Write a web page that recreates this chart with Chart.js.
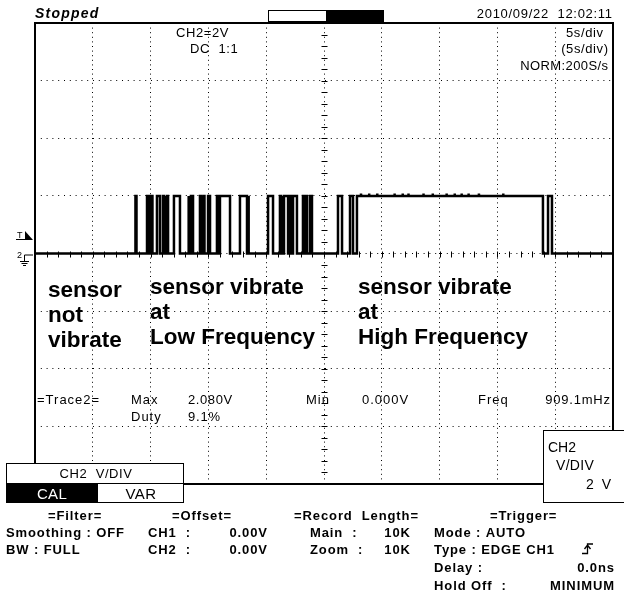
<!DOCTYPE html>
<html>
<head>
<meta charset="utf-8">
<script src="https://cdn.jsdelivr.net/npm/chart.js"></script>
<style>
  html, body { margin: 0; padding: 0; background: #fff; }
  #scope { display: block; }
</style>
</head>
<body>
<canvas id="scope" width="624" height="599"></canvas>
<script>
// Graticule: 10 x 5 s/div, 8 x 2 V/div, 0 V in the middle
const timeRange = [0, 50];
const voltRange = [-8, 8];
const timeStep = 5;
const voltStep = 2;

// CH2 trace: pulses (s) where the signal is high
const pulseOn  = [8.69, 9.69, 9.90, 10.08, 10.55, 11.07, 11.25, 11.42, 12.02, 13.24, 13.49,
                  14.27, 14.45, 14.58, 14.97, 15.74, 16.00, 17.73, 18.43, 20.16, 21.19, 21.37,
                  21.54, 22.06, 22.32, 23.18, 23.36, 23.79, 26.21, 27.25, 27.85, 44.38];
const pulseOff = [8.78, 9.78, 9.99, 10.16, 10.81, 11.16, 11.33, 11.51, 12.54, 13.32, 13.67,
                  14.36, 14.53, 14.66, 15.14, 15.83, 16.87, 18.34, 18.51, 20.59, 21.28, 21.45,
                  21.89, 22.15, 22.66, 23.27, 23.53, 23.96, 26.56, 27.51, 43.94, 44.72];
const highLevel = 2.0;
const spikeTimes = [28.2, 28.9, 29.6, 31.1, 31.8, 32.3, 33.6, 34.4, 35.6, 36.3, 36.9, 37.5, 38.4, 40.5];
const spikeLevel = 2.08;

// build the step trace from the arrays above
const trace = [{ x: timeRange[0], y: 0 }];
pulseOn.forEach((on, i) => {
  const off = pulseOff[i];
  trace.push({ x: on, y: 0 }, { x: on, y: highLevel });
  spikeTimes.filter(s => s > on && s < off).forEach(s => {
    trace.push({ x: s, y: highLevel }, { x: s, y: spikeLevel }, { x: s + 0.02, y: highLevel });
  });
  trace.push({ x: off, y: highLevel }, { x: off, y: 0 });
});
trace.push({ x: timeRange[1], y: 0 });

const SANS = '"Liberation Sans", Arial, sans-serif';

function txt(ctx, s, x, y, font, align = 'left', sp = 0, color = '#000') {
  ctx.save();
  ctx.font = font;
  ctx.letterSpacing = sp + 'px';
  ctx.textAlign = align;
  ctx.textBaseline = 'alphabetic';
  ctx.fillStyle = color;
  // letterSpacing also pads the last glyph, shift right-aligned text back
  ctx.fillText(s, align === 'right' ? x + sp : x, y);
  ctx.restore();
}

const screenDeco = {
  id: 'screenDeco',
  beforeDatasetsDraw(chart) {
    // centre lines carry small ticks every 1/5 division
    const { ctx, scales: { x, y } } = chart;
    const cx = Math.round(x.getPixelForValue((timeRange[0] + timeRange[1]) / 2)) + 0.5;
    const cy = Math.round(y.getPixelForValue(0)) + 0.5;
    ctx.save();
    ctx.strokeStyle = '#000';
    ctx.lineWidth = 1;
    ctx.beginPath();
    for (let t = timeRange[0]; t <= timeRange[1]; t += timeStep / 5) {
      const px = Math.round(x.getPixelForValue(t)) + 0.5;
      ctx.moveTo(px, cy - 3); ctx.lineTo(px, cy + 3);
    }
    for (let v = voltRange[0]; v <= voltRange[1] + 0.01; v += voltStep / 5) {
      const py = Math.round(y.getPixelForValue(v)) + 0.5;
      ctx.moveTo(cx - 3, py); ctx.lineTo(cx + 3, py);
    }
    ctx.stroke();
    ctx.restore();
  },
  afterDatasetsDraw(chart) {
    const { ctx, chartArea: a, scales: { y } } = chart;
    ctx.save();
    // screen frame
    ctx.strokeStyle = '#000';
    ctx.lineWidth = 2;
    ctx.strokeRect(a.left, a.top, a.right - a.left, a.bottom - a.top);

    const rd = '13px ' + SANS;        // screen readouts
    const pb = 'bold 13px ' + SANS;   // setup panel

    // header
    txt(ctx, 'Stopped', 35, 18, 'italic bold 14px ' + SANS, 'left', 1.2);
    txt(ctx, '2010/09/22  12:02:11', 612, 18, rd, 'right', 0.7);
    ctx.lineWidth = 1;
    ctx.fillStyle = '#fff';
    ctx.fillRect(268, 10, 58, 11);
    ctx.fillStyle = '#000';
    ctx.fillRect(326, 10, 58, 11);
    ctx.strokeRect(268.5, 10.5, 115, 11);

    // on-screen readouts
    txt(ctx, 'CH2=2V', 176, 37, rd, 'left', 0.6);
    txt(ctx, 'DC  1:1', 190, 53, rd, 'left', 0.6);
    txt(ctx, '5s/div', 603, 37, rd, 'right', 0.6);
    txt(ctx, '(5s/div)', 608, 53, rd, 'right', 0.6);
    txt(ctx, 'NORM:200S/s', 608, 70, rd, 'right', 0.4);

    // annotations
    const big = 'bold 22.5px ' + SANS;
    txt(ctx, 'sensor', 48, 297, big);
    txt(ctx, 'not', 48, 322, big);
    txt(ctx, 'vibrate', 48, 347, big);
    txt(ctx, 'sensor vibrate', 150, 294, big);
    txt(ctx, 'at', 150, 319, big);
    txt(ctx, 'Low Frequency', 150, 344, big);
    txt(ctx, 'sensor vibrate', 358, 294, big);
    txt(ctx, 'at', 358, 319, big);
    txt(ctx, 'High Frequency', 358, 344, big);

    // measurement readout
    txt(ctx, '=Trace2=', 37, 404, rd, 'left', 1);
    txt(ctx, 'Max', 131, 404, rd, 'left', 1);
    txt(ctx, '2.080V', 188, 404, rd, 'left', 0.6);
    txt(ctx, 'Min', 306, 404, rd, 'left', 1);
    txt(ctx, '0.000V', 362, 404, rd, 'left', 1);
    txt(ctx, 'Freq', 478, 404, rd, 'left', 1);
    txt(ctx, '909.1mHz', 610, 404, rd, 'right', 0.8);
    txt(ctx, 'Duty', 131, 421, rd, 'left', 1);
    txt(ctx, '9.1%', 188, 421, rd, 'left', 0.8);

    // trigger level and ground markers
    const gy = Math.round(y.getPixelForValue(0));
    ctx.fillStyle = '#000';
    txt(ctx, 'T', 17, 238, '9px ' + SANS);
    ctx.lineWidth = 1;
    ctx.beginPath(); ctx.moveTo(16, 239.5); ctx.lineTo(27, 239.5); ctx.stroke();
    ctx.beginPath(); ctx.moveTo(25, 231); ctx.lineTo(33, 240); ctx.lineTo(25, 240); ctx.closePath(); ctx.fill();
    txt(ctx, '2', 17, gy + 4, '9px ' + SANS);
    ctx.beginPath();
    ctx.moveTo(24.5, gy + 1); ctx.lineTo(33, gy + 1);
    ctx.moveTo(24.5, gy + 1); ctx.lineTo(24.5, gy + 7);
    ctx.moveTo(20, gy + 7.5); ctx.lineTo(29, gy + 7.5);
    ctx.moveTo(21.5, gy + 9.5); ctx.lineTo(27.5, gy + 9.5);
    ctx.moveTo(23, gy + 11.5); ctx.lineTo(26, gy + 11.5);
    ctx.stroke();

    // CH2 V/DIV soft-key box
    ctx.fillStyle = '#fff';
    ctx.fillRect(6, 463, 178, 40);
    ctx.fillStyle = '#000';
    ctx.fillRect(6, 483, 92, 20);
    ctx.strokeRect(6.5, 463.5, 177, 39);
    ctx.beginPath(); ctx.moveTo(6, 483.5); ctx.lineTo(184, 483.5); ctx.stroke();
    txt(ctx, 'CH2  V/DIV', 96, 478, rd, 'center', 0.6);
    txt(ctx, 'CAL', 52, 499, '15px ' + SANS, 'center', 0.3, '#fff');
    txt(ctx, 'VAR', 141, 499, '15px ' + SANS, 'center', 0.5);

    // CH2 V/DIV value box
    ctx.fillStyle = '#fff';
    ctx.fillRect(543, 430, 90, 73);
    ctx.strokeRect(543.5, 430.5, 90, 72);
    txt(ctx, 'CH2', 548, 452, '14px ' + SANS);
    txt(ctx, 'V/DIV', 556, 470, '14px ' + SANS, 'left', 0.3);
    txt(ctx, '2  V', 611, 489, '14px ' + SANS, 'right');

    // setup panel below the screen
    const rows = [520, 537, 554, 572, 590];
    const s = 0.9;
    txt(ctx, '=Filter=', 48, rows[0], pb, 'left', s);
    txt(ctx, '=Offset=', 172, rows[0], pb, 'left', s);
    txt(ctx, '=Record  Length=', 294, rows[0], pb, 'left', s);
    txt(ctx, '=Trigger=', 490, rows[0], pb, 'left', s);
    txt(ctx, 'Smoothing : OFF', 6, rows[1], pb, 'left', s);
    txt(ctx, 'CH1  :', 148, rows[1], pb, 'left', s);
    txt(ctx, '0.00V', 267, rows[1], pb, 'right', s);
    txt(ctx, 'Main  :', 310, rows[1], pb, 'left', s);
    txt(ctx, '10K', 410, rows[1], pb, 'right', s);
    txt(ctx, 'Mode : AUTO', 434, rows[1], pb, 'left', s);
    txt(ctx, 'BW : FULL', 6, rows[2], pb, 'left', s);
    txt(ctx, 'CH2  :', 148, rows[2], pb, 'left', s);
    txt(ctx, '0.00V', 267, rows[2], pb, 'right', s);
    txt(ctx, 'Zoom  :', 310, rows[2], pb, 'left', s);
    txt(ctx, '10K', 410, rows[2], pb, 'right', s);
    txt(ctx, 'Type : EDGE CH1', 434, rows[2], pb, 'left', s);
    txt(ctx, 'Delay :', 434, rows[3], pb, 'left', s);
    txt(ctx, '0.0ns', 614, rows[3], pb, 'right', s);
    txt(ctx, 'Hold Off  :', 434, rows[4], pb, 'left', s);
    txt(ctx, 'MINIMUM', 614, rows[4], pb, 'right', s);

    // rising-edge trigger symbol
    ctx.strokeStyle = '#000';
    ctx.lineWidth = 1.3;
    ctx.beginPath();
    ctx.moveTo(582, rows[2] - 0.5); ctx.lineTo(587.5, rows[2] - 0.5);
    ctx.lineTo(587.5, rows[2] - 10); ctx.lineTo(593, rows[2] - 10);
    ctx.moveTo(584.5, rows[2] - 5); ctx.lineTo(587.5, rows[2] - 9); ctx.lineTo(590.5, rows[2] - 5);
    ctx.stroke();
    ctx.restore();
  }
};

new Chart(document.getElementById('scope'), {
  type: 'line',
  data: {
    datasets: [{
      label: 'CH2',
      data: trace,
      borderColor: '#000',
      borderWidth: 2.5,
      pointRadius: 0,
      tension: 0,
      borderJoinStyle: 'miter',
      fill: false
    }]
  },
  options: {
    responsive: false,
    animation: false,
    events: [],
    layout: { padding: { left: 35, top: 23, right: 11, bottom: 115 } },
    plugins: { legend: { display: false }, tooltip: { enabled: false } },
    scales: {
      x: {
        type: 'linear',
        min: timeRange[0],
        max: timeRange[1],
        ticks: { display: false, stepSize: timeStep },
        grid: { color: '#000', lineWidth: 1, drawTicks: false },
        border: { display: false, dash: [1, 3.6] }
      },
      y: {
        min: voltRange[0],
        max: voltRange[1],
        ticks: { display: false, stepSize: voltStep },
        grid: { color: '#000', lineWidth: 1, drawTicks: false },
        border: { display: false, dash: [1, 4.8] }
      }
    }
  },
  plugins: [screenDeco]
});
</script>
</body>
</html>
